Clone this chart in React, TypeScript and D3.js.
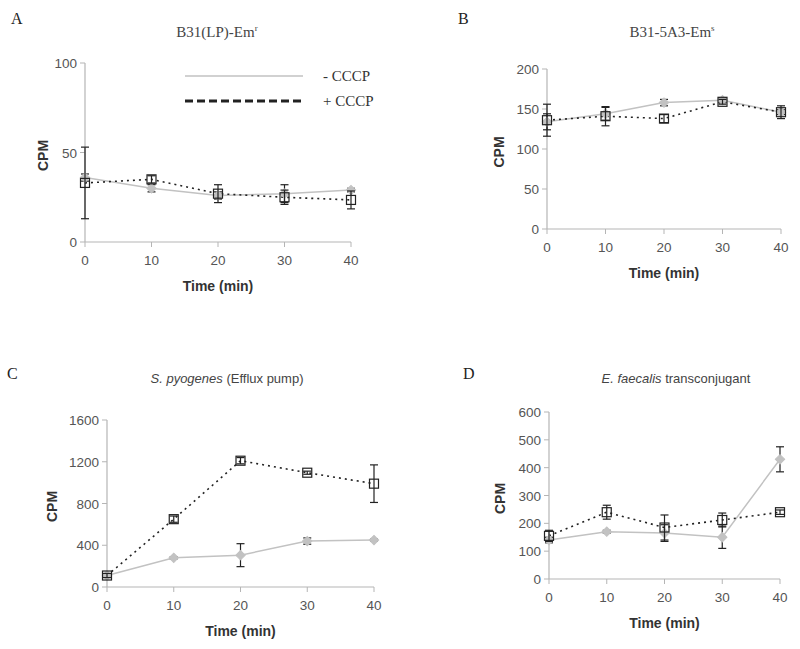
import React from "react";
import * as d3 from "d3";

const times = [0, 10, 20, 30, 40];
const xTicks = [0, 10, 20, 30, 40];

// Panel A
const aMinus = [36, 30, 26, 27, 29];
const aMinusErr = [2, 2, 2, 5, 1];
const aPlus = [33, 35, 27, 25, 23.5];
const aPlusErr = [20, 2, 5, 4, 5];
const aTicks = [0, 50, 100];
// Panel B
const bMinus = [134, 144, 158, 161, 146];
const bMinusErr = [10, 8, 4, 3, 3];
const bPlus = [136, 141, 138, 159, 146];
const bPlusErr = [20, 12, 5, 3, 8];
const bTicks = [0, 50, 100, 150, 200];
// Panel C
const cMinus = [110, 280, 305, 440, 450];
const cMinusErr = [10, 10, 110, 30, 10];
const cPlus = [110, 650, 1210, 1095, 990];
const cPlusErr = [20, 30, 30, 15, 180];
const cTicks = [0, 400, 800, 1200, 1600];
// Panel D
const dMinus = [140, 170, 165, 150, 430];
const dMinusErr = [10, 5, 30, 40, 45];
const dPlus = [155, 240, 185, 212, 240];
const dPlusErr = [20, 25, 45, 25, 8];
const dTicks = [0, 100, 200, 300, 400, 500, 600];

const legendLabels = ["- CCCP", "+ CCCP"];

const GRAY = "#c2c2c2";
const AXIS = "#b5b5b5";
const TXT = "#555";
const SANS = "Liberation Sans, Arial, sans-serif";
const SERIF = "Liberation Serif, Times New Roman, serif";

type PanelProps = {
  x0: number; x1: number; yTop: number; yBot: number;
  ticks: number[]; minus: number[]; minusErr: number[]; plus: number[]; plusErr: number[];
  cpmOff: number;
};

function Panel(p: PanelProps) {
  const x = d3.scaleLinear().domain([0, 40]).range([p.x0, p.x1]);
  const y = d3.scaleLinear().domain([0, p.ticks[p.ticks.length - 1]]).range([p.yBot, p.yTop]);
  const line = d3.line<number>().x((_, i) => x(times[i])).y((v) => y(v));
  const diamond = d3.symbol().type(d3.symbolSquare).size(44)();
  const errBar = (vals: number[], errs: number[], key: string) =>
    vals.map((v, i) => {
      const cx = x(times[i]);
      const t = y(v + errs[i]);
      const b = y(v - errs[i]);
      return (
        <g key={key + i} stroke="#222" strokeWidth={1.2}>
          <line x1={cx} x2={cx} y1={t} y2={b} />
          <line x1={cx - 4} x2={cx + 4} y1={t} y2={t} />
          <line x1={cx - 4} x2={cx + 4} y1={b} y2={b} />
        </g>
      );
    });
  const mid = (p.yTop + p.yBot) / 2;
  return (
    <g>
      <line x1={p.x0} x2={p.x0} y1={p.yTop} y2={p.yBot} stroke={AXIS} strokeWidth={1.2} />
      <line x1={p.x0} x2={p.x1} y1={p.yBot} y2={p.yBot} stroke={AXIS} strokeWidth={1.2} />
      {p.ticks.map((t) => (
        <g key={"yt" + t}>
          <line x1={p.x0 - 5} x2={p.x0} y1={y(t)} y2={y(t)} stroke={AXIS} />
          <text x={p.x0 - 8} y={y(t) + 5} textAnchor="end" fontFamily={SANS} fontSize={13.5} fill={TXT}>{t}</text>
        </g>
      ))}
      {xTicks.map((t) => (
        <g key={"xt" + t}>
          <line x1={x(t)} x2={x(t)} y1={p.yBot} y2={p.yBot + 5} stroke={AXIS} />
          <text x={x(t)} y={p.yBot + 23} textAnchor="middle" fontFamily={SANS} fontSize={13.5} fill={TXT}>{t}</text>
        </g>
      ))}
      <text x={(p.x0 + p.x1) / 2} y={p.yBot + 49} textAnchor="middle" fontFamily={SANS} fontWeight="bold" fontSize={14} fill="#333">Time (min)</text>
      <text transform={`translate(${p.x0 - p.cpmOff},${mid + 3}) rotate(-90)`} textAnchor="middle" dominantBaseline="central" fontFamily={SANS} fontWeight="bold" fontSize={14} fill="#333">CPM</text>
      <path d={line(p.minus) || ""} fill="none" stroke={GRAY} strokeWidth={1.5} />
      <path d={line(p.plus) || ""} fill="none" stroke="#222" strokeWidth={1.6} strokeDasharray="2,4" />
      {errBar(p.minus, p.minusErr, "em")}
      {p.minus.map((v, i) => (
        <path key={"dm" + i} d={diamond || ""} transform={`translate(${x(times[i])},${y(v)}) rotate(45)`} fill={GRAY} stroke={GRAY} />
      ))}
      {errBar(p.plus, p.plusErr, "ep")}
      {p.plus.map((v, i) => (
        <rect key={"sq" + i} x={x(times[i]) - 4.5} y={y(v) - 4.5} width={9} height={9} fill="none" stroke="#222" strokeWidth={1.2} />
      ))}
    </g>
  );
}

export default function App() {
  return (
    <svg width={800} height={649} style={{ position: "absolute", left: 0, top: 0, background: "#fff" }}>
      <rect width={800} height={649} fill="#fff" />
      <text x={11} y={24} fontFamily={SERIF} fontSize={16} fill="#222">A</text>
      <text x={458} y={24} fontFamily={SERIF} fontSize={16} fill="#222">B</text>
      <text x={7} y={379} fontFamily={SERIF} fontSize={16} fill="#222">C</text>
      <text x={463} y={379} fontFamily={SERIF} fontSize={16} fill="#222">D</text>
      <text x={217} y={37} textAnchor="middle" fontFamily={SERIF} fontSize={15} fill="#444">
        B31(LP)-Em<tspan dy={-6} fontSize={9}>r</tspan>
      </text>
      <text x={672} y={37} textAnchor="middle" fontFamily={SERIF} fontSize={15} fill="#444">
        B31-5A3-Em<tspan dy={-6} fontSize={9}>s</tspan>
      </text>
      <text x={227} y={383} textAnchor="middle" fontFamily={SANS} fontSize={13} fill="#444">
        <tspan fontStyle="italic">S. pyogenes</tspan> (Efflux pump)
      </text>
      <text x={676} y={383} textAnchor="middle" fontFamily={SANS} fontSize={13} fill="#444">
        <tspan fontStyle="italic">E. faecalis</tspan> transconjugant
      </text>
      <line x1={185} x2={303} y1={76} y2={76} stroke={GRAY} strokeWidth={1.5} />
      <text x={323} y={81} fontFamily={SERIF} fontSize={15} fill="#333">{legendLabels[0]}</text>
      <line x1={185} x2={303} y1={101} y2={101} stroke="#222" strokeWidth={3} strokeDasharray="8,4" />
      <text x={323} y={106} fontFamily={SERIF} fontSize={15} fill="#333">{legendLabels[1]}</text>

      <Panel x0={85} x1={351} yTop={63} yBot={242} ticks={aTicks} minus={aMinus} minusErr={aMinusErr} plus={aPlus} plusErr={aPlusErr} cpmOff={42} />
      <Panel x0={547} x1={781} yTop={69} yBot={229} ticks={bTicks} minus={bMinus} minusErr={bMinusErr} plus={bPlus} plusErr={bPlusErr} cpmOff={48} />
      <Panel x0={107} x1={374} yTop={420} yBot={587} ticks={cTicks} minus={cMinus} minusErr={cMinusErr} plus={cPlus} plusErr={cPlusErr} cpmOff={55} />
      <Panel x0={549} x1={780} yTop={412} yBot={579} ticks={dTicks} minus={dMinus} minusErr={dMinusErr} plus={dPlus} plusErr={dPlusErr} cpmOff={49} />
    </svg>
  );
}
